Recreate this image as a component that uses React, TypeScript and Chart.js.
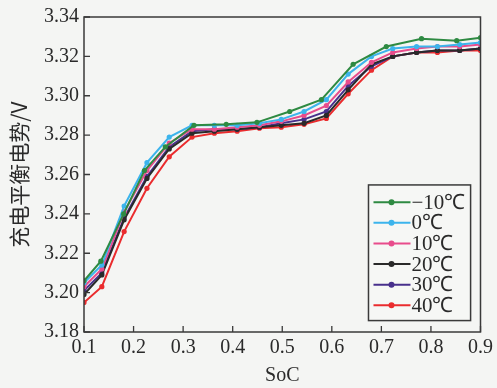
import React, { useEffect, useRef } from "react";
import { Chart, registerables } from "chart.js";

Chart.register(...registerables);

const seriesLabels = ["−10℃", "0℃", "10℃", "20℃", "30℃", "40℃"];
const seriesColors = ["#2e8a42", "#3cb4ec", "#e84c8c", "#2a2a2a", "#48308c", "#ea2c2e"];

const xTicks = [0.1, 0.2, 0.3, 0.4, 0.5, 0.6, 0.7, 0.8, 0.9];
const yTicks = [3.18, 3.2, 3.22, 3.24, 3.26, 3.28, 3.3, 3.32, 3.34];

const socSparse = [0.1, 0.134, 0.18, 0.222, 0.264, 0.322, 0.387, 0.449, 0.515, 0.579, 0.643, 0.71, 0.781, 0.852, 0.9];
const socDense = [0.1, 0.136, 0.181, 0.227, 0.272, 0.318, 0.363, 0.409, 0.454, 0.498, 0.544, 0.589, 0.633, 0.68, 0.723, 0.771, 0.813, 0.858, 0.9];

const vMinus10 = [3.206, 3.216, 3.240, 3.262, 3.274, 3.285, 3.2855, 3.2865, 3.292, 3.298, 3.316, 3.325, 3.329, 3.328, 3.3295];
const v0 = [3.205, 3.214, 3.244, 3.266, 3.279, 3.285, 3.285, 3.285, 3.286, 3.288, 3.292, 3.298, 3.311, 3.320, 3.324, 3.325, 3.325, 3.326, 3.327];
const v10 = [3.203, 3.212, 3.241, 3.262, 3.276, 3.283, 3.283, 3.284, 3.285, 3.287, 3.290, 3.295, 3.307, 3.317, 3.322, 3.324, 3.325, 3.325, 3.326];
const v20 = [3.199, 3.209, 3.237, 3.258, 3.273, 3.281, 3.282, 3.283, 3.284, 3.285, 3.286, 3.290, 3.303, 3.316, 3.320, 3.322, 3.323, 3.323, 3.324];
const v30 = [3.201, 3.210, 3.238, 3.259, 3.274, 3.282, 3.283, 3.283, 3.284, 3.286, 3.288, 3.292, 3.305, 3.315, 3.320, 3.322, 3.323, 3.323, 3.324];
const v40 = [3.195, 3.203, 3.231, 3.253, 3.269, 3.279, 3.281, 3.282, 3.2835, 3.284, 3.2855, 3.2885, 3.301, 3.313, 3.320, 3.322, 3.322, 3.323, 3.323];

const seriesX = [socSparse, socDense, socDense, socDense, socDense, socDense];
const seriesY = [vMinus10, v0, v10, v20, v30, v40];

const serif = "'Liberation Serif', 'Times New Roman', serif";

const frameAndTicks = {
  id: "frameAndTicks",
  afterDraw(chart: any) {
    const { ctx, chartArea } = chart;
    const { left, right, top, bottom } = chartArea;
    const xs = chart.scales.x;
    const ys = chart.scales.y;
    ctx.save();
    ctx.strokeStyle = "#3a3a3a";
    ctx.lineWidth = 1.5;
    ctx.strokeRect(left, top, right - left, bottom - top);
    ctx.lineWidth = 1.3;
    ctx.beginPath();
    xTicks.forEach((v) => {
      const px = xs.getPixelForValue(v);
      ctx.moveTo(px, bottom);
      ctx.lineTo(px, bottom - 6);
    });
    yTicks.forEach((v) => {
      const py = ys.getPixelForValue(v);
      ctx.moveTo(left, py);
      ctx.lineTo(left + 6, py);
    });
    ctx.stroke();

    // legend box
    const lx = xs.getPixelForValue(0.674);
    const lr = xs.getPixelForValue(0.88);
    const ly = ys.getPixelForValue(3.2547);
    const lb = ys.getPixelForValue(3.1858);
    ctx.fillStyle = "#f6f7f5";
    ctx.fillRect(lx, ly, lr - lx, lb - ly);
    ctx.lineWidth = 1.5;
    ctx.strokeStyle = "#3a3a3a";
    ctx.strokeRect(lx, ly, lr - lx, lb - ly);
    const rowH = (lb - ly - 12) / seriesLabels.length;
    ctx.font = `21px ${serif}`;
    ctx.textBaseline = "middle";
    ctx.textAlign = "left";
    seriesLabels.forEach((lab, i) => {
      const cy = ly + 7 + rowH * (i + 0.5);
      ctx.strokeStyle = seriesColors[i];
      ctx.lineWidth = 2;
      ctx.beginPath();
      ctx.moveTo(lx + 5, cy);
      ctx.lineTo(lx + 42, cy);
      ctx.stroke();
      ctx.fillStyle = seriesColors[i];
      ctx.beginPath();
      ctx.arc(lx + 23, cy, 3, 0, Math.PI * 2);
      ctx.fill();
      ctx.fillStyle = "#2a2a2a";
      ctx.fillText(lab, lx + 43, cy + 1);
    });
    ctx.restore();
  },
};

export default function App() {
  const ref = useRef<HTMLCanvasElement | null>(null);
  useEffect(() => {
    document.body.style.margin = "0";
    document.body.style.background = "#f4f5f3";
    if (!ref.current) return;
    const datasets = seriesLabels.map((label, i) => ({
      label,
      data: seriesX[i].map((x, j) => ({ x, y: seriesY[i][j] })),
      borderColor: seriesColors[i],
      backgroundColor: seriesColors[i],
      borderWidth: 2,
      pointRadius: 2.6,
      pointBorderWidth: 0,
      pointBackgroundColor: seriesColors[i],
      tension: 0,
      fill: false,
    }));
    const chart = new Chart(ref.current, {
      type: "line",
      data: { datasets },
      options: {
        animation: false,
        responsive: false,
        maintainAspectRatio: false,
        layout: { padding: { top: 17, right: 16, left: 0, bottom: 0 } },
        plugins: { legend: { display: false }, tooltip: { enabled: false } },
        scales: {
          x: {
            type: "linear",
            min: 0.1,
            max: 0.9,
            afterBuildTicks: (s: any) => {
              s.ticks = xTicks.map((v) => ({ value: v }));
            },
            afterFit: (s: any) => {
              s.height = 56;
            },
            ticks: {
              callback: (v: any) => Number(v).toFixed(1),
              color: "#2a2a2a",
              font: { family: serif, size: 20 },
              padding: 4,
              maxRotation: 0,
              autoSkip: false,
            },
            grid: { display: false, drawTicks: false },
            border: { display: false },
            title: {
              display: true,
              text: "SoC",
              color: "#2a2a2a",
              font: { family: serif, size: 20 },
              padding: { top: 0, bottom: 0 },
            },
          },
          y: {
            type: "linear",
            min: 3.18,
            max: 3.34,
            afterBuildTicks: (s: any) => {
              s.ticks = yTicks.map((v) => ({ value: v }));
            },
            afterFit: (s: any) => {
              s.width = 84;
            },
            ticks: {
              callback: (v: any) => Number(v).toFixed(2),
              color: "#2a2a2a",
              font: { family: serif, size: 20 },
              padding: 5,
              autoSkip: false,
            },
            grid: { display: false, drawTicks: false },
            border: { display: false },
            title: {
              display: true,
              text: "充电平衡电势/V",
              color: "#2a2a2a",
              font: { family: "'Noto Sans CJK SC', sans-serif", size: 21 },
              padding: { top: 6, bottom: 0 },
            },
          },
        },
      },
      plugins: [frameAndTicks],
    });
    return () => chart.destroy();
  }, []);
  return <canvas ref={ref} width={497} height={388} style={{ display: "block" }} />;
}
